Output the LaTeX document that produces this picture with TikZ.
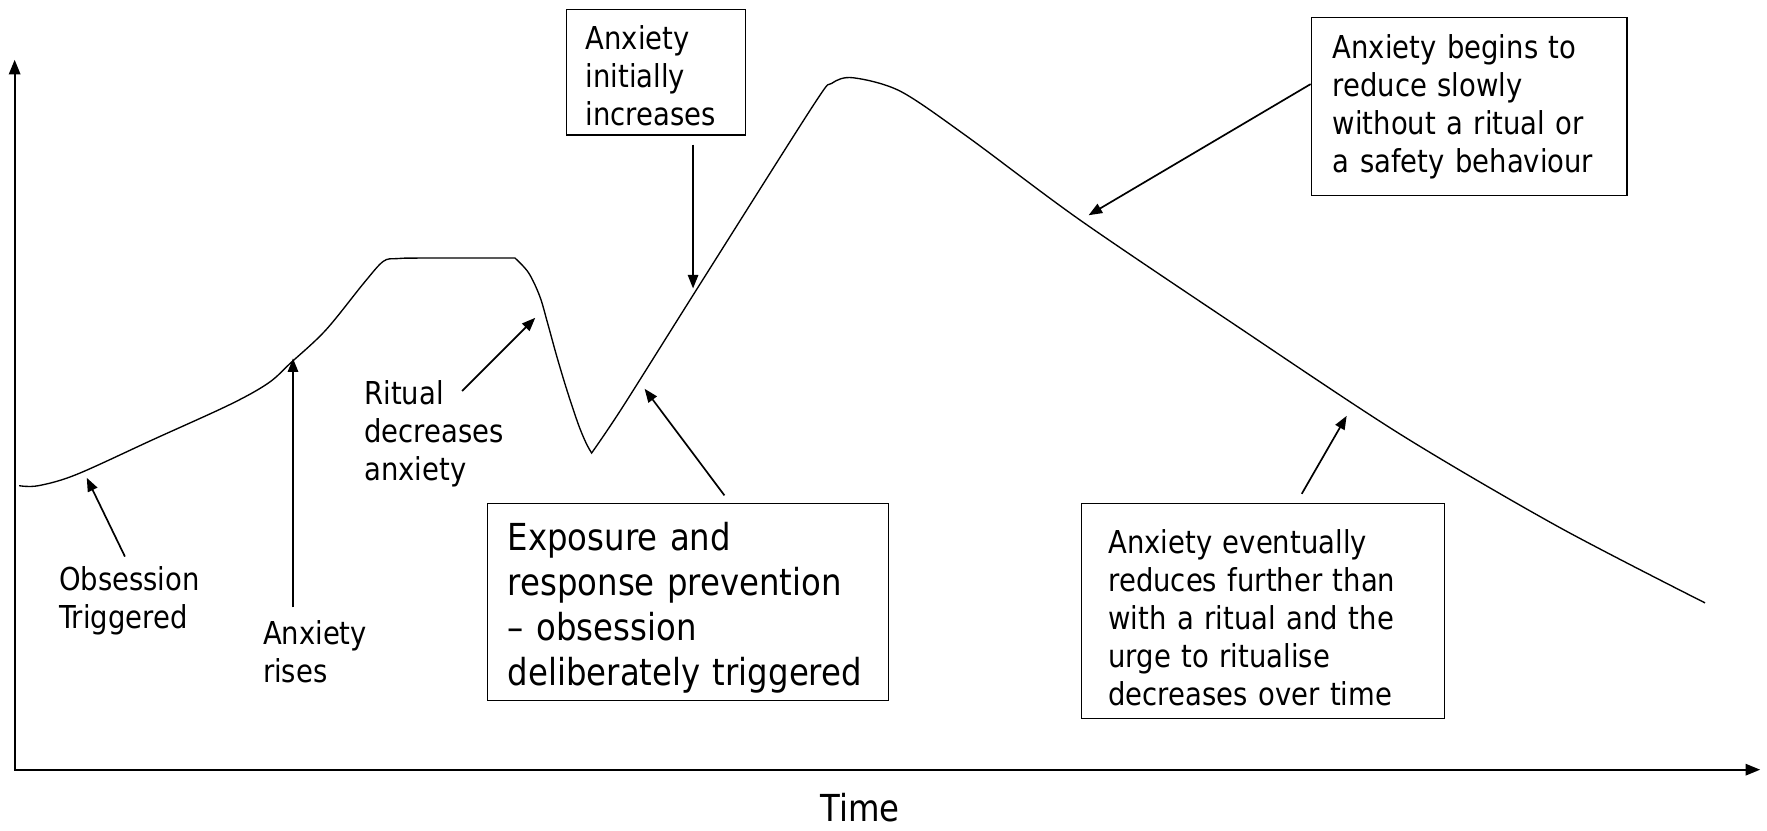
\documentclass[tikz,border=0pt]{standalone}
\usepackage{fontspec}
\setmainfont{DejaVu Sans}[FakeStretch=0.87]
\usetikzlibrary{arrows.meta}

\begin{document}
\begin{tikzpicture}[x=0.5pt,y=-0.5pt]
\tikzstyle{every node}+=[inner sep=0pt]
\tikzstyle{note}=[anchor=north west, align=left, font=\fontsize{14}{16.85}\selectfont]
\tikzstyle{notebox}=[draw, line width=0.65pt, anchor=north west, align=left, font=\fontsize{14}{16.85}\selectfont]
\tikzstyle{bigfont}=[font=\fontsize{16.5}{20}\selectfont]
\tikzstyle{pointer}=[line width=0.75pt, -{Triangle[length=6pt,width=4.6pt]}]
\tikzstyle{curve}=[line width=0.6pt]
\tikzstyle{axis}=[line width=1pt, {Triangle[length=6.5pt,width=5pt]}-{Triangle[length=6.5pt,width=5pt]}]
\useasboundingbox (0,0) rectangle (1568,737);
% axes
\draw [axis] (13,53) -- (13,683) -- (1562,683);
\node [bigfont] (time) at (763,717) {Time};
% anxiety over time
\draw [curve] plot[smooth,tension=0.55] coordinates {(17,431) (34,431) (68,421) (136,390) (204,359) (238,340) (258,322) (289,293) (323,251) (340,232) (352,229.5) (373,229) (457,229)}
  -- plot[smooth,tension=0.55] coordinates {(457,229) (469,242) (479,263) (486,287) (494,316) (503,346) (513,376) (520,393) (525,402)}
  -- plot[smooth,tension=0.5] coordinates {(525,402) (552,362) (620,254) (722,93) (738,74) (757,69) (799,81) (858,121) (958,195) (1094,287) (1242,385) (1382,467) (1513,535)};
\coordinate (obstip) at (77,424);
\coordinate (risetip) at (260,318);
\coordinate (ritualtip) at (475,282);
\coordinate (incrtip) at (615,256);
\coordinate (expotip) at (572,345);
\coordinate (slowtip) at (966,191);
\coordinate (reducetip) at (1195,369);
% labels
\node [note] (obs) at (52,502) {Obsession\\Triggered};
\node [note] (rises) at (233,550) {Anxiety\\rises};
\node [note] (ritual) at (323,337) {Ritual\\decreases\\anxiety};
\node [notebox, inner xsep=8.5pt, text width=62.5pt, minimum height=55.5pt] (incr) at (502,8) {\rule{0pt}{13.6pt}Anxiety\\initially\\increases};
\node [notebox, inner xsep=9.5pt, text width=121pt, minimum height=79pt] (slow) at (1163,15) {Anxiety begins to\\reduce slowly\\without a ritual or\\a safety behaviour};
\node [notebox, bigfont, inner xsep=9pt, text width=160pt, minimum height=87.5pt] (expo) at (432,446) {\rule{0pt}{17.5pt}Exposure and\\response prevention\\-- obsession\\deliberately triggered};
\node [notebox, inner xsep=12pt, text width=137pt, minimum height=95.5pt] (reduce) at (959,446) {\rule{0pt}{16.6pt}Anxiety eventually\\reduces further than\\with a ritual and the\\urge to ritualise\\decreases over time};
% pointers
\draw [pointer, shorten <=4.5pt] (obs.north) -- (obstip);
\draw [pointer, shorten <=5.5pt] (rises.north -| risetip) -- (risetip);
\draw [pointer] ([xshift=43.5pt,yshift=-5pt]ritual.north west) -- (ritualtip);
\draw [pointer, shorten <=4pt] (incr.south -| incrtip) -- (incrtip);
\draw [pointer, shorten <=4pt] ([xshift=18.5pt]expo.north) -- (expotip);
\draw [pointer] ([yshift=10pt]slow.west) -- (slowtip);
\draw [pointer, shorten <=4.5pt] ([xshift=15pt]reduce.north) -- (reducetip);
\end{tikzpicture}
\end{document}
